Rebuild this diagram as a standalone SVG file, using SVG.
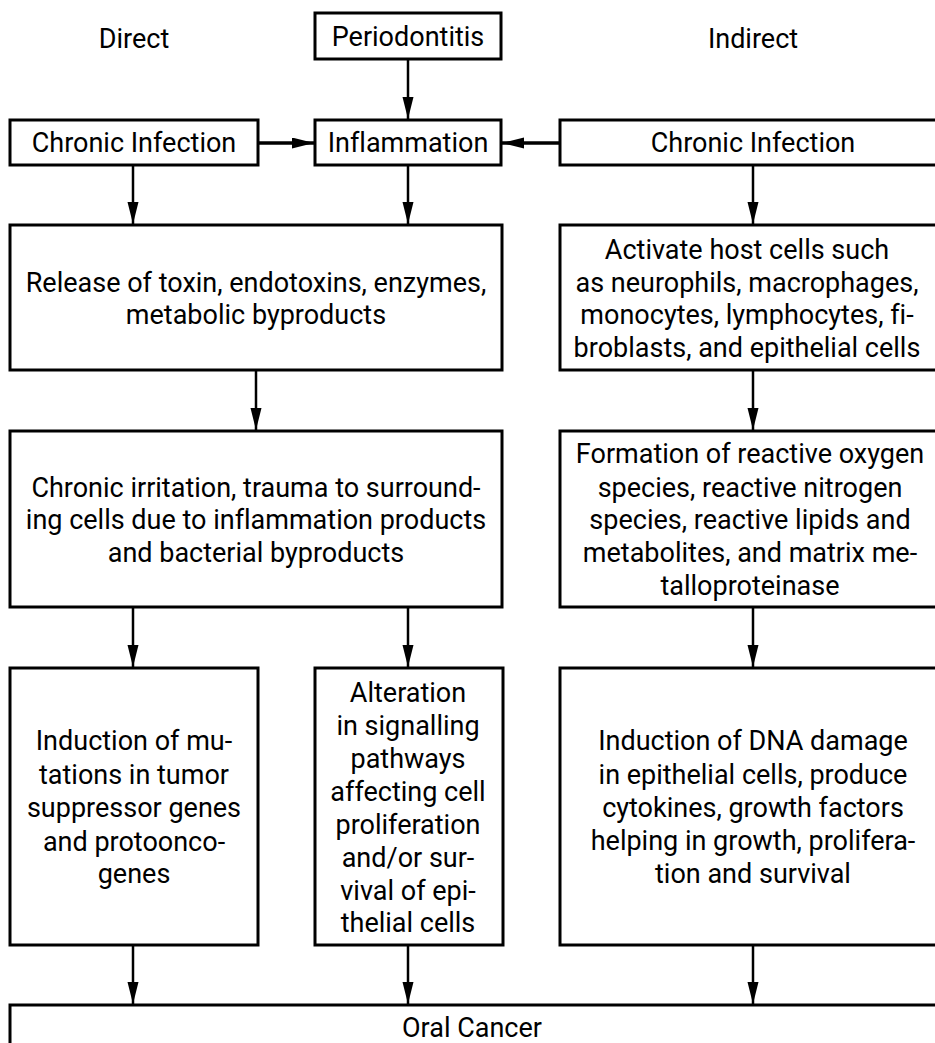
<svg xmlns="http://www.w3.org/2000/svg" width="935" height="1043" viewBox="0 0 935 1043">
<defs>
<marker id="ah" markerUnits="userSpaceOnUse" markerWidth="24" markerHeight="12" refX="22" refY="5.5" orient="auto">
<path d="M0,0 L22,5.5 L0,11 z" fill="#000"/>
</marker>
<style>
.box{fill:#fff;stroke:#000;stroke-width:3}
.t{font-family:Roboto,"Noto Sans",sans-serif;font-size:27px;fill:#000;text-anchor:middle;font-variant-ligatures:none}
.c line{stroke:#000;stroke-width:2.5;marker-end:url(#ah)}
.c line.h{stroke-width:3.5}
</style>
</defs>
<rect width="935" height="1043" fill="#fff"/>
<g id="label-direct"><text class="t" x="134" y="48">Direct</text></g>
<g id="label-indirect"><text class="t" x="753" y="48">Indirect</text></g>
<g id="periodontitis"><rect class="box" x="315" y="13" width="186" height="46"/><text class="t" x="408" y="46">Periodontitis</text></g>
<g id="chronic-left"><rect class="box" x="10" y="120" width="248" height="45"/><text class="t" x="134" y="152">Chronic Infection</text></g>
<g id="inflammation"><rect class="box" x="315" y="120" width="186" height="45"/><text class="t" x="408" y="152">Inflammation</text></g>
<g id="chronic-right"><rect class="box" x="560" y="120" width="385" height="45"/><text class="t" x="753" y="152">Chronic Infection</text></g>
<g id="release"><rect class="box" x="10" y="225" width="492" height="145"/><text class="t" x="256" y="292">Release of toxin, endotoxins, enzymes,</text><text class="t" x="256" y="324">metabolic byproducts</text></g>
<g id="activate"><rect class="box" x="560" y="225" width="385" height="145"/><text class="t" x="747" y="259">Activate host cells such</text><text class="t" x="747" y="292">as neurophils, macrophages,</text><text class="t" x="747" y="324">monocytes, lymphocytes, fi-</text><text class="t" x="747" y="357">broblasts, and epithelial cells</text></g>
<g id="irritation"><rect class="box" x="10" y="431" width="492" height="176"/><text class="t" x="256" y="497">Chronic irritation, trauma to surround-</text><text class="t" x="256" y="529">ing cells due to inflammation products</text><text class="t" x="256" y="562">and bacterial byproducts</text></g>
<g id="formation"><rect class="box" x="560" y="431" width="385" height="176"/><text class="t" x="750" y="463">Formation of reactive oxygen</text><text class="t" x="750" y="497">species, reactive nitrogen</text><text class="t" x="750" y="529">species, reactive lipids and</text><text class="t" x="750" y="562">metabolites, and matrix me-</text><text class="t" x="750" y="595">talloproteinase</text></g>
<g id="mutations"><rect class="box" x="10" y="668" width="248" height="277"/><text class="t" x="134" y="750">Induction of mu-</text><text class="t" x="134" y="784">tations in tumor</text><text class="t" x="134" y="817">suppressor genes</text><text class="t" x="134" y="851">and protoonco-</text><text class="t" x="134" y="883">genes</text></g>
<g id="alteration"><rect class="box" x="315" y="668" width="188" height="277"/><text class="t" x="408" y="702">Alteration</text><text class="t" x="408" y="735">in signalling</text><text class="t" x="408" y="768">pathways</text><text class="t" x="408" y="801">affecting cell</text><text class="t" x="408" y="834">proliferation</text><text class="t" x="408" y="867">and/or sur-</text><text class="t" x="408" y="900">vival of epi-</text><text class="t" x="408" y="932">thelial cells</text></g>
<g id="dna"><rect class="box" x="560" y="668" width="385" height="277"/><text class="t" x="753" y="750">Induction of DNA damage</text><text class="t" x="753" y="784">in epithelial cells, produce</text><text class="t" x="753" y="817">cytokines, growth factors</text><text class="t" x="753" y="850">helping in growth, prolifera-</text><text class="t" x="753" y="883">tion and survival</text></g>
<g id="oral-cancer"><rect class="box" x="10" y="1005" width="935" height="60"/><text class="t" x="472" y="1037">Oral Cancer</text></g>
<g id="connectors" class="c">
<line x1="408" y1="59" x2="408" y2="119"/>
<line class="h" x1="258" y1="143" x2="314" y2="143"/>
<line class="h" x1="560" y1="143" x2="502" y2="143"/>
<line x1="133" y1="165" x2="133" y2="224"/>
<line x1="408" y1="165" x2="408" y2="224"/>
<line x1="753" y1="165" x2="753" y2="224"/>
<line x1="256" y1="370" x2="256" y2="430"/>
<line x1="753" y1="370" x2="753" y2="430"/>
<line x1="133" y1="607" x2="133" y2="667"/>
<line x1="408" y1="607" x2="408" y2="667"/>
<line x1="753" y1="607" x2="753" y2="667"/>
<line x1="133" y1="945" x2="133" y2="1004"/>
<line x1="408" y1="945" x2="408" y2="1004"/>
<line x1="753" y1="945" x2="753" y2="1004"/>
</g>
</svg>
